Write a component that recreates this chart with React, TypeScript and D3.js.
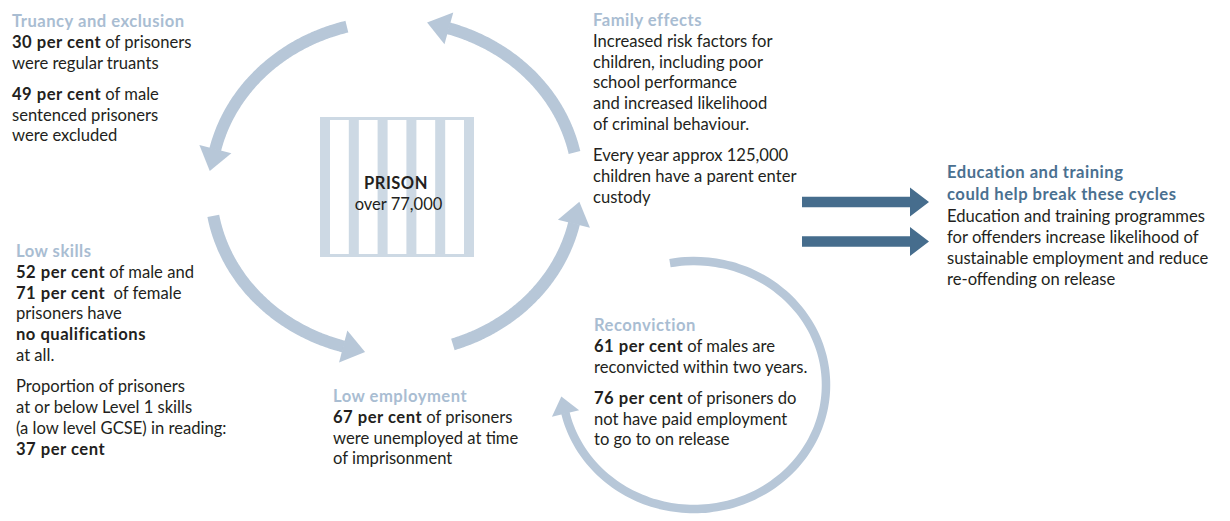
import React, { useEffect } from "react";
import * as d3 from "d3";

const W = 1230;
const H = 521;

type Seg = { t: string; b?: boolean };

// ---------- text content ----------
const truancyTitle = "Truancy and exclusion";
const truancyParas: Seg[][][] = [
  [[{ t: "30 per cent", b: true }, { t: " of prisoners" }], [{ t: "were regular truants" }]],
  [[{ t: "49 per cent", b: true }, { t: " of male" }], [{ t: "sentenced prisoners" }], [{ t: "were excluded" }]],
];

const familyTitle = "Family effects";
const familyParas: Seg[][][] = [
  [
    [{ t: "Increased risk factors for" }],
    [{ t: "children, including poor" }],
    [{ t: "school performance" }],
    [{ t: "and increased likelihood" }],
    [{ t: "of criminal behaviour." }],
  ],
  [
    [{ t: "Every year approx 125,000" }],
    [{ t: "children have a parent enter" }],
    [{ t: "custody" }],
  ],
];

const skillsTitle = "Low skills";
const skillsParas: Seg[][][] = [
  [
    [{ t: "52 per cent", b: true }, { t: " of male and" }],
    [{ t: "71 per cent", b: true }, { t: " \u00a0of female" }],
    [{ t: "prisoners have" }],
    [{ t: "no qualifications", b: true }],
    [{ t: "at all." }],
  ],
  [
    [{ t: "Proportion of prisoners" }],
    [{ t: "at or below Level 1 skills" }],
    [{ t: "(a low level GCSE) in reading:" }],
    [{ t: "37 per cent", b: true }],
  ],
];

const employTitle = "Low employment";
const employParas: Seg[][][] = [
  [
    [{ t: "67 per cent", b: true }, { t: " of prisoners" }],
    [{ t: "were unemployed at time" }],
    [{ t: "of imprisonment" }],
  ],
];

const reconTitle = "Reconviction";
const reconParas: Seg[][][] = [
  [[{ t: "61 per cent", b: true }, { t: " of males are" }], [{ t: "reconvicted within two years." }]],
  [
    [{ t: "76 per cent", b: true }, { t: " of prisoners do" }],
    [{ t: "not have paid employment" }],
    [{ t: "to go to on release" }],
  ],
];

const eduTitleLines = ["Education and training", "could help break these cycles"];
const eduBody = [
  "Education and training programmes",
  "for offenders increase likelihood of",
  "sustainable employment and reduce",
  "re-offending on release",
];

const prisonLabel = "PRISON";
const prisonCount = "over 77,000";

// ---------- cycle arcs (parametric angles in degrees) ----------
const bigArcStart = [-105, -12, 71.5, 170];
const bigArcEnd = [-167, -73, 12.6, 106];
const smallArcStart = [-100.5];
const smallArcEnd = [167];
const prisonBars = [0, 1, 2, 3, 4, 5];
const eduArrows = [0, 1];

// ---------- style ----------
const FONT = "Lato, 'Noto Sans', sans-serif";
const FS = 16.6;
const LH = 20.8;
const PGAP = 10.3;
const BOLD_LS = 0.5;
const TEXT = "#231f20";
const TITLE = "#a9bdd2";
const ARC = "#b7c7d8";
const BAR = "#cdd9e4";
const DARK = "#466d8d";

type Ell = { cx: number; cy: number; rx: number; ry: number };
const big: Ell = { cx: 394.5, cy: 187, rx: 184, ry: 166 };
const small: Ell = { cx: 694, cy: 385, rx: 132, ry: 124 };

const rad = (d: number) => (d * Math.PI) / 180;
const pt = (e: Ell, deg: number): [number, number] => [
  e.cx + e.rx * Math.cos(rad(deg)),
  e.cy + e.ry * Math.sin(rad(deg)),
];

function arcPath(e: Ell, a0: number, a1: number) {
  const n = 80;
  const angles = d3.range(n + 1).map((i) => a0 + ((a1 - a0) * i) / n);
  return d3.line<number>()
    .x((a) => pt(e, a)[0])
    .y((a) => pt(e, a)[1])
    .curve(d3.curveCatmullRom)(angles) as string;
}

function headPath(e: Ell, a0: number, a1: number, w: number, l: number) {
  const s = a1 > a0 ? 1 : -1;
  const t = rad(a1);
  let dx = -e.rx * Math.sin(t) * s;
  let dy = e.ry * Math.cos(t) * s;
  const m = Math.hypot(dx, dy);
  dx /= m;
  dy /= m;
  const [bx, by] = pt(e, a1);
  const px = -dy, py = dx;
  const back = 0.6;
  const p = d3.path();
  p.moveTo(bx - dx * back + (px * w) / 2, by - dy * back + (py * w) / 2);
  p.lineTo(bx + dx * l, by + dy * l);
  p.lineTo(bx - dx * back - (px * w) / 2, by - dy * back - (py * w) / 2);
  p.closePath();
  return p.toString();
}

function Block({ x, y, title, paras, titleColor = TITLE }: { x: number; y: number; title: string; paras: Seg[][][]; titleColor?: string }) {
  const rows: { y: number; segs: Seg[] }[] = [];
  let cy = y + LH;
  paras.forEach((para, pi) => {
    if (pi > 0) cy += PGAP;
    para.forEach((line) => {
      rows.push({ y: cy, segs: line });
      cy += LH;
    });
  });
  return (
    <g fontFamily={FONT} fontSize={FS} style={{ whiteSpace: "pre" }}>
      <text x={x} y={y} fill={titleColor} fontWeight="bold" letterSpacing={BOLD_LS}>{title}</text>
      {rows.map((r, i) => (
        <text key={i} x={x} y={r.y} fill={TEXT}>
          {r.segs.map((s, j) => (
            <tspan key={j} fontWeight={s.b ? "bold" : "normal"} letterSpacing={s.b ? BOLD_LS : 0}>{s.t}</tspan>
          ))}
        </text>
      ))}
    </g>
  );
}

export default function App() {
  useEffect(() => {
    document.body.style.margin = "0";
  }, []);

  const barX = d3.scaleLinear().domain([0, 5]).range([320, 464]);
  const barW = 10;
  const boxTop = 117;
  const boxBottom = 257;

  const arrowY = d3.scaleLinear().domain([0, 1]).range([202, 241.5]);

  return (
    <svg width={W} height={H} style={{ position: "absolute", left: 0, top: 0, background: "#fff" }}>
      {/* prison bars */}
      <g fill={BAR}>
        <rect x={barX(0)} y={boxTop} width={barX(5) + barW - barX(0)} height={3} />
        <rect x={barX(0)} y={boxBottom - 3} width={barX(5) + barW - barX(0)} height={3} />
        {prisonBars.map((i) => (
          <rect key={i} x={barX(i)} y={boxTop} width={barW} height={boxBottom - boxTop} />
        ))}
      </g>
      <text x={396} y={189} textAnchor="middle" fontFamily={FONT} fontSize={16.5} fontWeight="bold" letterSpacing={BOLD_LS} fill={TEXT}>{prisonLabel}</text>
      <text x={398.5} y={210} textAnchor="middle" fontFamily={FONT} fontSize={16.5} fill={TEXT}>{prisonCount}</text>

      {/* big cycle */}
      {bigArcStart.map((a0, i) => (
        <g key={i}>
          <path d={arcPath(big, a0, bigArcEnd[i])} fill="none" stroke={ARC} strokeWidth={12} />
          <path d={headPath(big, a0, bigArcEnd[i], 33, 22)} fill={ARC} />
        </g>
      ))}

      {/* small cycle */}
      {smallArcStart.map((a0, i) => (
        <g key={i}>
          <path d={arcPath(small, a0, smallArcEnd[i])} fill="none" stroke={ARC} strokeWidth={8.5} />
          <path d={headPath(small, a0, smallArcEnd[i], 28, 17)} fill={ARC} />
        </g>
      ))}

      {/* education arrows */}
      {eduArrows.map((i) => {
        const y = arrowY(i);
        const p = d3.path();
        p.moveTo(802, y - 5.3);
        p.lineTo(910, y - 5.3);
        p.lineTo(910, y - 14.5);
        p.lineTo(929, y);
        p.lineTo(910, y + 14.5);
        p.lineTo(910, y + 5.3);
        p.lineTo(802, y + 5.3);
        p.closePath();
        return <path key={i} d={p.toString()} fill={DARK} />;
      })}

      <Block x={12} y={27} title={truancyTitle} paras={truancyParas} />
      <Block x={593} y={26} title={familyTitle} paras={familyParas} />
      <Block x={16} y={257} title={skillsTitle} paras={skillsParas} />
      <Block x={333} y={402} title={employTitle} paras={employParas} />
      <Block x={594} y={331} title={reconTitle} paras={reconParas} />

      <g fontFamily={FONT} fontSize={FS}>
        {eduTitleLines.map((t, i) => (
          <text key={t} x={947} y={178 + i * 21.5} fill="#4a7090" fontWeight="bold" letterSpacing={BOLD_LS}>{t}</text>
        ))}
        {eduBody.map((t, i) => (
          <text key={t} x={947} y={222 + i * 21} fill={TEXT}>{t}</text>
        ))}
      </g>
    </svg>
  );
}
